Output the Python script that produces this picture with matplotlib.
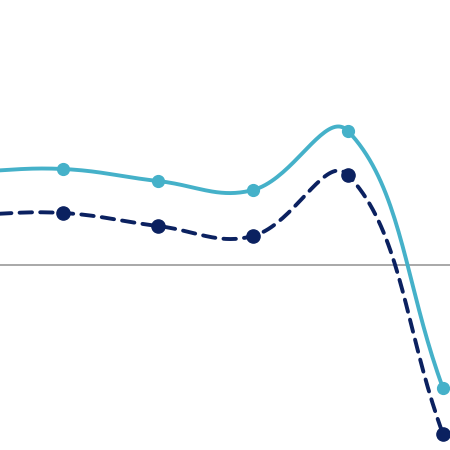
import numpy as np
import matplotlib
matplotlib.use("Agg")
import matplotlib.pyplot as plt

periods = [0, 1, 2, 3, 4, 5]
series_a = [4.65, 4.8, 4.2, 3.75, 6.7, -6.15]
series_b = [2.5, 2.6, 1.95, 1.45, 4.5, -8.45]
baseline = 0.0

fig = plt.figure(figsize=(4.5, 4.5), dpi=100)
ax = fig.add_axes([0, 0, 1, 1])
ax.set_xlim(0.337, 5.074)
ax.set_ylim(-9.25, 13.25)
ax.axis("off")


def spline(xs, ys, tension=0.4, n=40):
    pts = ax.transData.transform(np.column_stack([xs, ys]))
    m = len(pts)
    cps = []
    for i in range(m):
        prev = pts[max(i - 1, 0)]
        cur = pts[i]
        nxt = pts[min(i + 1, m - 1)]
        d01 = np.hypot(*(cur - prev))
        d12 = np.hypot(*(nxt - cur))
        tot = d01 + d12
        s01 = d01 / tot if tot else 0
        s12 = d12 / tot if tot else 0
        c1 = cur - tension * s01 * (nxt - prev)
        c2 = cur + tension * s12 * (nxt - prev)
        cps.append((c1, c2))
    out = []
    t = np.linspace(0, 1, n)[:, None]
    for i in range(m - 1):
        p0 = pts[i]
        p1 = cps[i][1]
        p2 = cps[i + 1][0]
        p3 = pts[i + 1]
        seg = ((1 - t) ** 3) * p0 + 3 * ((1 - t) ** 2) * t * p1 + 3 * (1 - t) * t ** 2 * p2 + t ** 3 * p3
        out.append(seg if i == 0 else seg[1:])
    out = np.vstack(out)
    data = ax.transData.inverted().transform(out)
    return data[:, 0], data[:, 1]


ax.axhline(baseline, color="#9a9a9a", lw=1.2, zorder=1)

light = "#45b1c9"
dark = "#0b2160"

sx, sy = spline(periods, series_a)
ax.plot(sx, sy, color=light, lw=2.8, solid_capstyle="round", zorder=2)
ax.plot(periods, series_a, "o", color=light, ms=8.5, zorder=3)

sx, sy = spline(periods, series_b)
ax.plot(sx, sy, color=dark, lw=2.8, dashes=(3.2, 2.1), dash_capstyle="round", zorder=2)
ax.plot(periods, series_b, "o", color=dark, ms=9.5, zorder=3)

fig.savefig("out.png", dpi=100)
